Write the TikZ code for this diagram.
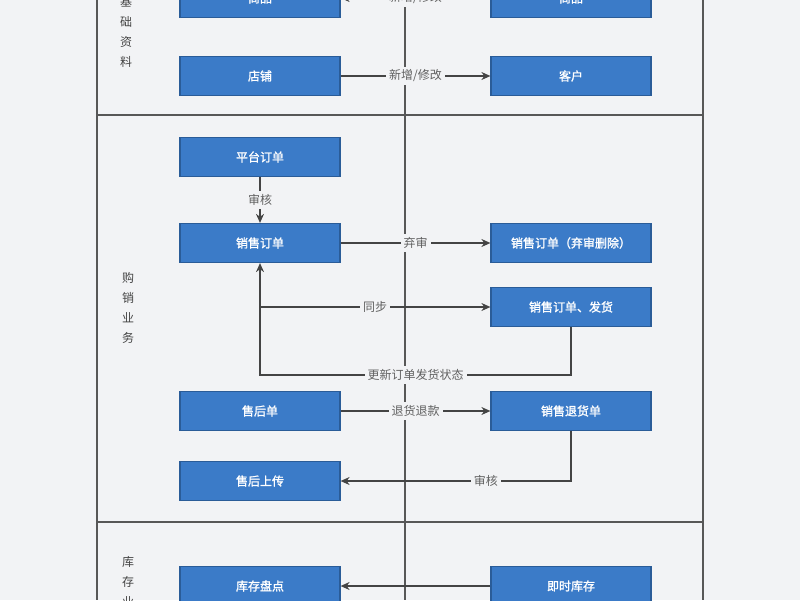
\documentclass[tikz,border=0pt]{standalone}
\usepackage{fontspec}
\newfontfamily\cjk{Noto Sans CJK SC}
\newfontfamily\cjkb{Noto Sans CJK SC}[FakeBold=1.5]
\usetikzlibrary{arrows.meta}
\definecolor{bg}{HTML}{F2F3F5}
\definecolor{boxf}{HTML}{3B7BC8}
\definecolor{boxd}{HTML}{2A5C98}
\definecolor{ln}{HTML}{444444}
\begin{document}
\begin{tikzpicture}[x=1pt,y=-1pt,
 box/.style={draw=boxd,line width=1.2pt,fill=boxf,minimum width=160pt,minimum height=39pt,text=white,font=\cjkb\fontsize{12}{12}\selectfont,inner sep=0pt},
 lab/.style={fill=bg,text=ln!85,font=\cjk\fontsize{12}{12}\selectfont,inner sep=3pt},
 side/.style={text=ln,font=\cjk\fontsize{12}{12}\selectfont,align=center,inner sep=0pt},
 con/.style={draw=ln,line width=1.3pt,-{Stealth[length=9pt,width=8pt]}},
 frm/.style={draw=ln!90,line width=1.3pt}]
\useasboundingbox (0,0) rectangle (800,600);
\clip (0,0) rectangle (800,600);
\fill[bg] (0,0) rectangle (800,600);
\draw[frm] (97,0) -- (97,600) (703,0) -- (703,600) (97,115) -- (703,115) (97,522) -- (703,522);
\draw[frm] (405,0) -- (405,600);
% section labels
\node[side] (s1) at (126,32) {基\\[8pt]础\\[8pt]资\\[8pt]料};
\node[side] (s2) at (128,308) {购\\[8pt]销\\[8pt]业\\[8pt]务};
\node[side] (s3) at (128,592) {库\\[8pt]存\\[8pt]业\\[8pt]务};
% boxes
\node[box] (a1) at (260,-2) {商品};
\node[box] (b1) at (571,-2) {商品};
\node[box] (a2) at (260,76) {店铺};
\node[box] (b2) at (571,76) {客户};
\node[box] (a3) at (260,157) {平台订单};
\node[box] (a4) at (260,243) {销售订单};
\node[box] (b4) at (571,243) {销售订单（弃审删除）};
\node[box] (b5) at (571,307) {销售订单、发货};
\node[box] (a6) at (260,411) {售后单};
\node[box] (b6) at (571,411) {销售退货单};
\node[box] (a7) at (260,481) {售后上传};
\node[box] (a8) at (260,586) {库存盘点};
\node[box] (b8) at (571,586) {即时库存};
% connectors
\draw[con] (b1) -- node[lab] {新增/修改} (a1);
\draw[con] (a2) -- node[lab] {新增/修改} (b2);
\draw[con] (a3) -- node[lab] {审核} (a4);
\draw[con] (a4) -- node[lab] {弃审} (b4);
\coordinate (br) at (260,307);
\draw[con] (br) -- node[lab] {同步} (b5);
\draw[con] (b5.south) -- (571,375) -- node[lab] {更新订单发货状态} (260,375) -- (a4.south);
\draw[con] (a6) -- node[lab] {退货退款} (b6);
\draw[con] (b6.south) -- (571,481) -- node[lab,pos=0.37] {审核} (a7.east);
\draw[con] (b8) -- (a8);
\end{tikzpicture}
\end{document}
